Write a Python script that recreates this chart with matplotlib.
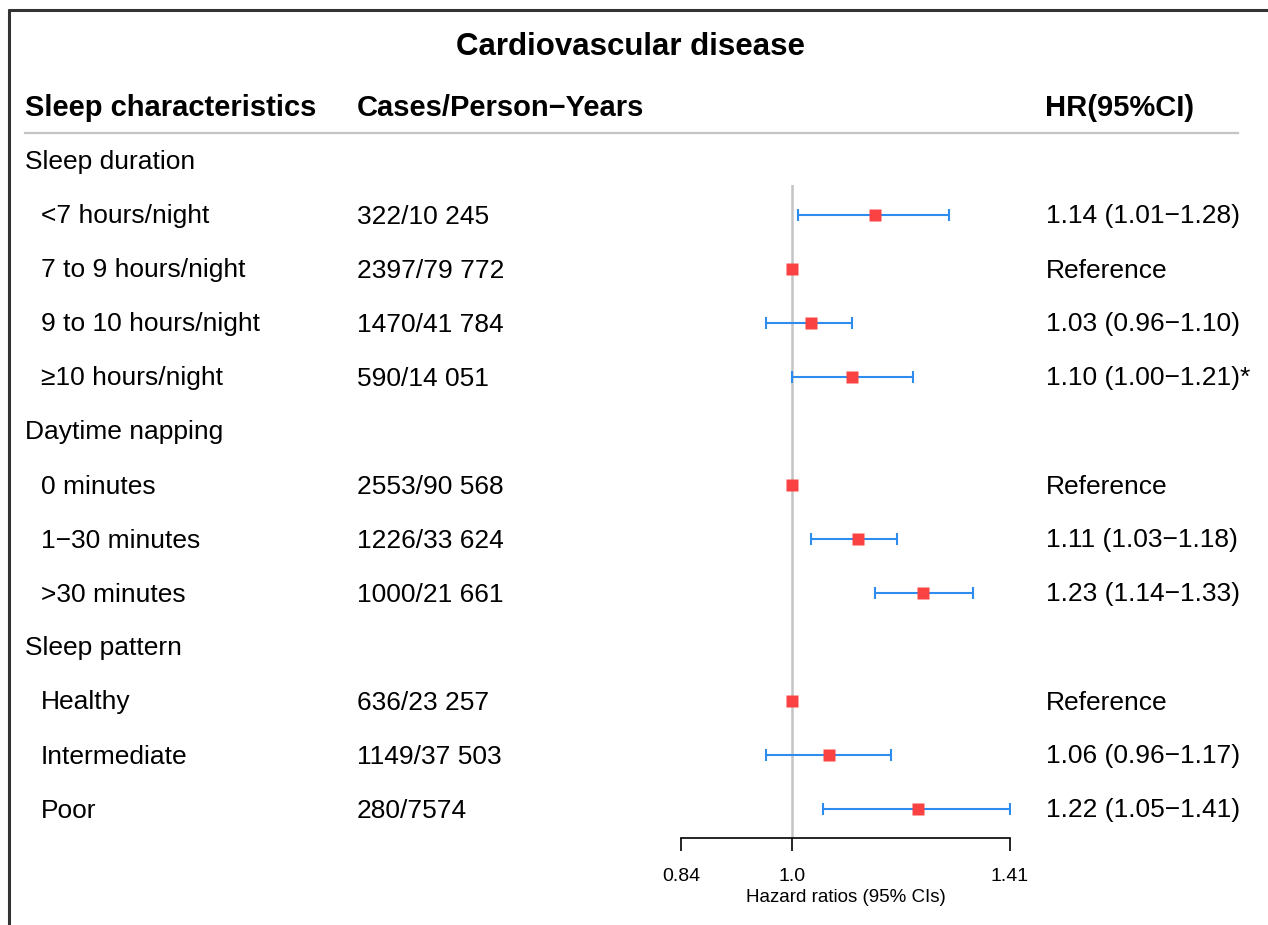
import numpy as np
import matplotlib
matplotlib.use("Agg")
import matplotlib.pyplot as plt
from matplotlib.ticker import FixedLocator, FixedFormatter, NullLocator

plt.rcParams["font.family"] = ["Liberation Sans", "DejaVu Sans"]

# ---- data -----------------------------------------------------------------
title = "Cardiovascular disease"
col_headers = ["Sleep characteristics", "Cases/Person\u2212Years", "HR(95%CI)"]

groups = ["Sleep duration", "Daytime napping", "Sleep pattern"]
labels = [
    ["<7 hours/night", "7 to 9 hours/night", "9 to 10 hours/night", "\u226510 hours/night"],
    ["0 minutes", "1\u221230 minutes", ">30 minutes"],
    ["Healthy", "Intermediate", "Poor"],
]
cases = [
    ["322/10 245", "2397/79 772", "1470/41 784", "590/14 051"],
    ["2553/90 568", "1226/33 624", "1000/21 661"],
    ["636/23 257", "1149/37 503", "280/7574"],
]
hr = [[1.14, 1.00, 1.03, 1.10], [1.00, 1.11, 1.23], [1.00, 1.06, 1.22]]
ci_lo = [[1.01, None, 0.96, 1.00], [None, 1.03, 1.14], [None, 0.96, 1.05]]
ci_hi = [[1.28, None, 1.10, 1.21], [None, 1.18, 1.33], [None, 1.17, 1.41]]
hr_text = [
    ["1.14 (1.01\u22121.28)", "Reference", "1.03 (0.96\u22121.10)", "1.10 (1.00\u22121.21)*"],
    ["Reference", "1.11 (1.03\u22121.18)", "1.23 (1.14\u22121.33)"],
    ["Reference", "1.06 (0.96\u22121.17)", "1.22 (1.05\u22121.41)"],
]
xticks = [0.84, 1.0, 1.41]
xtick_labels = ["0.84", "1.0", "1.41"]
xlabel = "Hazard ratios (95% CIs)"

# ---- layout (pixels) ------------------------------------------------------
W, H = 1268, 925
ROW0, STEP = 161, 54           # y of first group row, row spacing
X_LABEL, X_SUB, X_CASES, X_HR = 25, 41, 357, 1046
AX_L, AX_R, AX_T, AX_B = 681, 1010, 185, 838
RED, BLUE, GREY = "#fa4242", "#2d8ced", "#c4c4c4"
FS = 19

fig = plt.figure(figsize=(W / 100, H / 100), dpi=100)

# overlay axes in pixel coordinates for text and frame
ov = fig.add_axes([0, 0, 1, 1])
ov.set_xlim(0, W)
ov.set_ylim(H, 0)
ov.axis("off")

# forest axes: x on log scale, y in row index
ax = fig.add_axes([AX_L / W, 1 - AX_B / H, (AX_R - AX_L) / W, (AX_B - AX_T) / H])
ax.set_xscale("log")
ax.set_xlim(xticks[0], xticks[-1])
ax.set_ylim((AX_B - ROW0) / STEP, (AX_T - ROW0) / STEP)
ax.patch.set_alpha(0)
for s in ("top", "left", "right"):
    ax.spines[s].set_visible(False)
ax.spines["bottom"].set_linewidth(1.2)
ax.set_yticks([])
ax.xaxis.set_major_locator(FixedLocator(xticks))
ax.xaxis.set_major_formatter(FixedFormatter(xtick_labels))
ax.xaxis.set_minor_locator(NullLocator())
ax.tick_params(axis="x", direction="out", length=9.5, width=1.2,
               pad=12, labelsize=14)
ax.set_xlabel(xlabel, fontsize=13.5, labelpad=3)
ax.axvline(1.0, color=GREY, lw=1.8, zorder=1)

# frame (top and left edges)
ov.plot([8, W], [9.5, 9.5], color="#333333", lw=2.2, solid_capstyle="butt")
ov.plot([9, 9], [9, H], color="#333333", lw=2.2, solid_capstyle="butt")

# title + header
ov.text(631, 55, title, ha="center", va="baseline", fontsize=22.5, weight="bold")
for x, t in zip([X_LABEL, X_CASES, X_HR - 1], col_headers):
    ov.text(x, 116, t, ha="left", va="baseline", fontsize=21, weight="bold")
ov.plot([X_LABEL, 1238], [133, 133], color=GREY, lw=1.6)

row = 0
for g, name in enumerate(groups):
    ov.text(X_LABEL, ROW0 + row * STEP + 7.5, name, ha="left", va="baseline", fontsize=FS)
    row += 1
    for i, lab in enumerate(labels[g]):
        yp = ROW0 + row * STEP + 8.5
        ov.text(X_SUB, yp, lab, ha="left", va="baseline", fontsize=FS)
        ov.text(X_CASES, yp, cases[g][i], ha="left", va="baseline", fontsize=FS)
        ov.text(X_HR, yp, hr_text[g][i], ha="left", va="baseline", fontsize=FS)
        if ci_lo[g][i] is not None:
            ax.errorbar(hr[g][i], row,
                        xerr=[[hr[g][i] - ci_lo[g][i]], [ci_hi[g][i] - hr[g][i]]],
                        fmt="none", ecolor=BLUE, elinewidth=1.5, capsize=4.3,
                        capthick=1.5, zorder=2)
        ax.plot(hr[g][i], row, "s", color=RED, ms=8.3, mec="none", zorder=3)
        row += 1

fig.savefig("out.png", dpi=100)
